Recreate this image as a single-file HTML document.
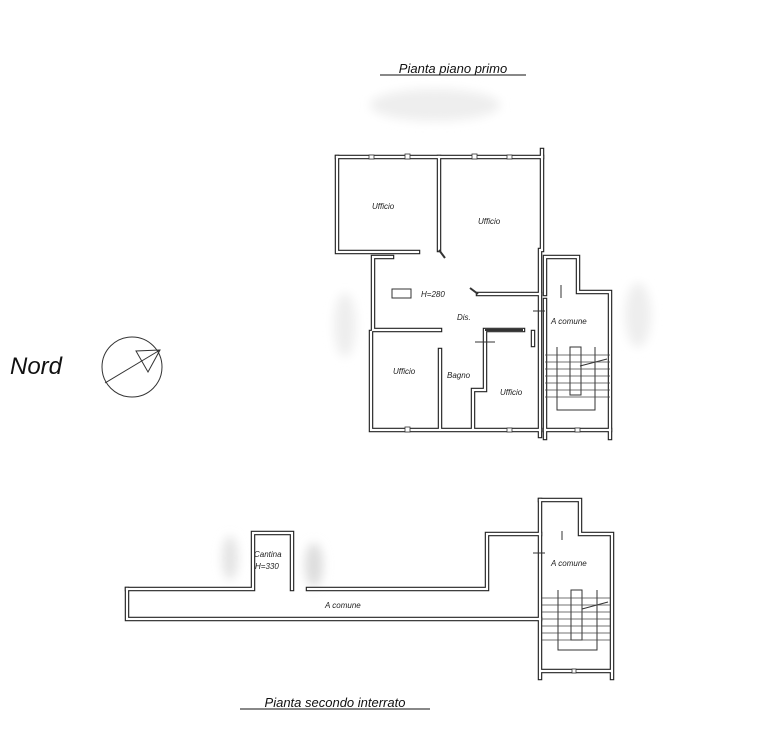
<!DOCTYPE html>
<html><head><meta charset="utf-8"><style>
html,body{margin:0;padding:0;background:#fff;}
svg{display:block;font-family:"Liberation Sans",sans-serif;}
.t{font-style:italic;font-size:8px;fill:#222;}
.l{stroke:#333;stroke-width:1;fill:none;}
</style></head><body>
<svg width="768" height="738" viewBox="0 0 768 738">
<defs>
<filter id="b"><feGaussianBlur stdDeviation="5"/></filter>
<g id="walls">
<polyline points="337,157 542,157"/>
<polyline points="542,150 542,250 540,250 540,436"/>
<polyline points="337,157 337,252 418,252"/>
<polyline points="439,157 439,250"/>
<polyline points="392,257 373,257 373,330 440,330"/>
<polyline points="371,332 371,430 540,430"/>
<polyline points="478,294 540,294"/>
<polyline points="440,350 440,428"/>
<polyline points="523,330 485,330 485,390 473,390 473,428"/>
<polyline points="533,332 533,345"/>
<polyline points="545,294 545,257 578,257 578,292 610,292 610,438"/>
<polyline points="545,300 545,438"/>
<polyline points="545,430 610,430"/>
<polyline points="127,589 253,589 253,533 292,533 292,589"/>
<polyline points="308,589 487,589 487,534 540,534"/>
<polyline points="127,589 127,619 540,619"/>
<polyline points="540,500 540,678"/>
<polyline points="540,500 580,500 580,534 612,534 612,678"/>
<polyline points="542,671 610,671"/>
</g>
</defs>
<g fill="#eee" filter="url(#b)">
<ellipse cx="435" cy="105" rx="65" ry="16"/>
<ellipse cx="345" cy="325" rx="11" ry="32"/>
<ellipse cx="638" cy="315" rx="13" ry="32"/>
<ellipse cx="230" cy="558" rx="8" ry="22" fill="#e4e4e4"/>
<ellipse cx="314" cy="565" rx="9" ry="22" fill="#ddd"/>
</g>
<text x="453" y="73" text-anchor="middle" font-size="13" font-style="italic" fill="#111">Pianta piano primo</text>
<line x1="380" y1="75" x2="526" y2="75" stroke="#111" stroke-width="1"/>
<text x="335" y="707" text-anchor="middle" font-size="13" font-style="italic" fill="#111">Pianta secondo interrato</text>
<line x1="240" y1="709" x2="430" y2="709" stroke="#111" stroke-width="1"/>
<text x="10" y="374" font-size="24" font-style="italic" fill="#111">Nord</text>
<circle cx="132" cy="367" r="30" class="l"/>
<line x1="105" y1="383" x2="160" y2="350" class="l"/>
<polygon points="160,350 136,351 148,372" class="l"/>
<use href="#walls" fill="none" stroke="#222" stroke-width="4.5" stroke-linecap="square"/>
<use href="#walls" fill="none" stroke="#fff" stroke-width="2.2" stroke-linecap="square"/>
<line x1="439" y1="250" x2="445" y2="258" stroke="#333" stroke-width="2"/>
<line x1="470" y1="288" x2="478" y2="294" stroke="#333" stroke-width="2"/>
<rect x="392" y="289" width="19" height="9" class="l"/>
<g stroke="#333" stroke-width="1">
<line x1="485" y1="330" x2="523" y2="330" stroke-width="2"/>
<line x1="475" y1="342" x2="495" y2="342"/>
<line x1="561" y1="285" x2="561" y2="298"/>
<line x1="533" y1="311" x2="545" y2="311"/>
<line x1="562" y1="531" x2="562" y2="540"/>
<line x1="533" y1="553" x2="545" y2="553"/>
</g>
<g fill="#fff" stroke="#333" stroke-width="0.8">
<rect x="369" y="155" width="5" height="4"/><rect x="405" y="154" width="5" height="5"/>
<rect x="472" y="154" width="5" height="5"/><rect x="507" y="155" width="5" height="4"/>
<rect x="405" y="427" width="5" height="5"/><rect x="507" y="428" width="5" height="4"/>
<rect x="575" y="428" width="5" height="4"/><rect x="572" y="669" width="4" height="4"/>
</g>
<g class="l">
<rect x="570" y="347" width="11" height="48"/>
<polyline points="557,347 557,410 595,410 595,347"/>
<rect x="571" y="590" width="11" height="50"/>
<polyline points="558,590 558,650 597,650 597,590"/>
<line x1="580" y1="366" x2="607" y2="359"/>
<line x1="582" y1="609" x2="608" y2="602"/>
</g>
<g stroke="#444" stroke-width="0.8">
<line x1="545" y1="355" x2="610" y2="355"/><line x1="545" y1="362" x2="610" y2="362"/>
<line x1="545" y1="369" x2="610" y2="369"/><line x1="545" y1="376" x2="610" y2="376"/>
<line x1="545" y1="383" x2="610" y2="383"/><line x1="545" y1="390" x2="610" y2="390"/>
<line x1="545" y1="397" x2="610" y2="397"/>
<line x1="542" y1="598" x2="610" y2="598"/><line x1="542" y1="605" x2="610" y2="605"/>
<line x1="542" y1="612" x2="610" y2="612"/><line x1="542" y1="619" x2="610" y2="619"/>
<line x1="542" y1="626" x2="610" y2="626"/><line x1="542" y1="633" x2="610" y2="633"/>
<line x1="542" y1="640" x2="610" y2="640"/>
</g>
<text class="t" x="372" y="209">Ufficio</text>
<text class="t" x="478" y="224">Ufficio</text>
<text class="t" x="421" y="297">H=280</text>
<text class="t" x="457" y="320">Dis.</text>
<text class="t" x="551" y="324">A comune</text>
<text class="t" x="393" y="374">Ufficio</text>
<text class="t" x="447" y="378">Bagno</text>
<text class="t" x="500" y="395">Ufficio</text>
<text class="t" x="254" y="557">Cantina</text>
<text class="t" x="255" y="569">H=330</text>
<text class="t" x="325" y="608">A comune</text>
<text class="t" x="551" y="566">A comune</text>
</svg>
</body></html>
